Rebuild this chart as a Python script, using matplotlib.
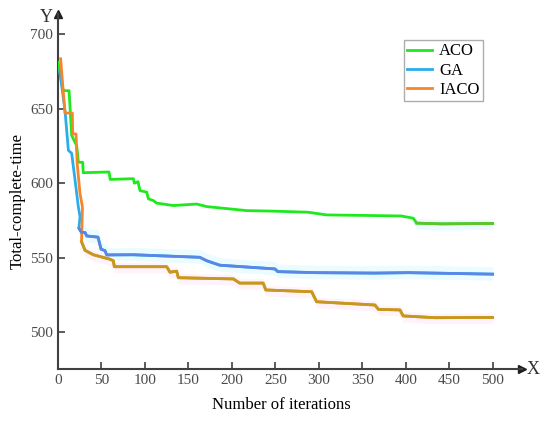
import matplotlib
matplotlib.use("Agg")
import matplotlib.pyplot as plt
import numpy as np

# convergence curves
aco_x = [0, 6, 12.7, 15.7, 21.5, 23.4, 28.4, 29, 58.7, 60, 86.6, 87.8, 92, 94.3, 102, 104,
         109.7, 113.5, 121, 132.6, 159.5, 171, 217, 250, 288, 309, 361, 395, 408.7, 412.6, 441, 500]
aco_y = [681, 662, 662, 632, 625, 614, 614, 607, 607.5, 602.5, 603, 600, 601, 595, 594, 589.5,
         588.3, 586.6, 586, 585, 586, 584.3, 581.6, 581.2, 580.5, 578.7, 578.3, 578, 576.5, 573.2, 572.7, 573]

ga_x = [2, 8, 11.9, 15.7, 19.6, 23.4, 25.3, 24, 27, 31, 33, 46, 49.5, 54, 56, 86.6, 163, 171,
        186, 249.6, 252.7, 295.6, 364.6, 403, 500]
ga_y = [675, 649, 622, 620, 602, 584, 577.6, 569.8, 567, 567, 564.6, 563.8, 555.7, 554.8, 551.9,
        552, 550.3, 548, 545, 542.5, 540.7, 540, 539.7, 540, 539]

iaco_x = [3, 8, 16.5, 16.9, 20.7, 22, 25.3, 28, 28, 27, 31, 40.6, 59.8, 63.6, 64.8, 125, 128.8,
          136.5, 138.4, 201.7, 209, 236, 239, 291.8, 297.5, 364.6, 368.5, 393.4, 397, 433.6, 500]
iaco_y = [683.4, 647, 647, 633, 633, 613.4, 593, 584.3, 580, 560.8, 555, 552, 549, 548, 544, 544, 540.3,
          541, 536.6, 535.8, 533, 533, 528.4, 527.2, 520.5, 518.3, 515.4, 515, 511, 509.8, 510]

xticks = list(range(0, 501, 50))
yticks = [500, 550, 600, 650, 700]

plt.rcParams['font.family'] = ['Liberation Serif', 'DejaVu Serif']

fig = plt.figure(figsize=(5.5, 4.21), dpi=100)
ax = fig.add_axes([0.1055, 0.1242, 0.843, 0.8425])

# faint shaded bands seen around the curves
ax.fill_between(ga_x[6:], np.array(ga_y[6:]) - 4, np.array(ga_y[6:]) + 5,
                color="#eafcff", lw=0, zorder=0)
ax.fill_between(aco_x[-4:], np.array(aco_y[-4:]) - 4, np.array(aco_y[-4:]) + 3,
                color="#eafcff", lw=0, zorder=0)
ax.fill_between(iaco_x[9:], np.array(iaco_y[9:]) - 4, np.array(iaco_y[9:]) + 3,
                color="#fff2fa", lw=0, zorder=0)

ax.plot(aco_x, aco_y, color="#1ee81e", lw=2.0, label="ACO", zorder=3)
ax.plot(ga_x, ga_y, color="#2aaeea", lw=2.0, label="GA", zorder=3)
ax.plot(iaco_x, iaco_y, color="#f5862a", lw=2.0, label="IACO", zorder=3)

# later parts of the curves appear in blended colours
ax.plot(ga_x[7:], ga_y[7:], color="#5b86e6", lw=2.0, zorder=4)
ax.plot(iaco_x[9:], iaco_y[9:], color="#c49a1e", lw=2.0, zorder=4)
ax.plot(aco_x[-3:], aco_y[-3:], color="#62c22c", lw=2.0, zorder=4)

ax.set_xlim(0, 533.4)
ax.set_ylim(475.6, 713.4)
ax.set_xticks(xticks)
ax.set_yticks(yticks)
ax.tick_params(direction="in", length=5, width=1.2, colors="#404040",
               labelcolor="#4a4a4a", labelsize=11)
for s in ["top", "right"]:
    ax.spines[s].set_visible(False)
for s in ["left", "bottom"]:
    ax.spines[s].set_color("#404040")
    ax.spines[s].set_linewidth(1.5)

# axis arrows
ax.plot(1, 0, ">", color="#202020", ms=6, transform=ax.transAxes, clip_on=False)
ax.plot(0, 1, "^", color="#202020", ms=6, transform=ax.transAxes, clip_on=False)
fig.text(533 / 550, 1 - 369 / 421, "X", fontsize=13, ha="center", va="center", color="#303030")
fig.text(46 / 550, 1 - 18 / 421, "Y", fontsize=13, ha="center", va="center", color="#303030")

fig.text(281 / 550, 1 - 405 / 421, "Number of iterations", fontsize=12, ha="center", va="center")
fig.text(18 / 550, 1 - 201 / 421, "Total-complete-time", fontsize=12, ha="center", va="center",
         rotation=90)

leg = ax.legend(loc="upper left", bbox_to_anchor=(404 / 550, 1 - 40 / 421),
                bbox_transform=fig.transFigure, fontsize=12, frameon=True, fancybox=False,
                handlelength=1.5, handletextpad=0.4, borderpad=0.2, labelspacing=0.2,
                borderaxespad=0)
leg.get_frame().set_edgecolor("#999999")
leg.get_frame().set_linewidth(1.0)

fig.savefig("out.png", dpi=100)
